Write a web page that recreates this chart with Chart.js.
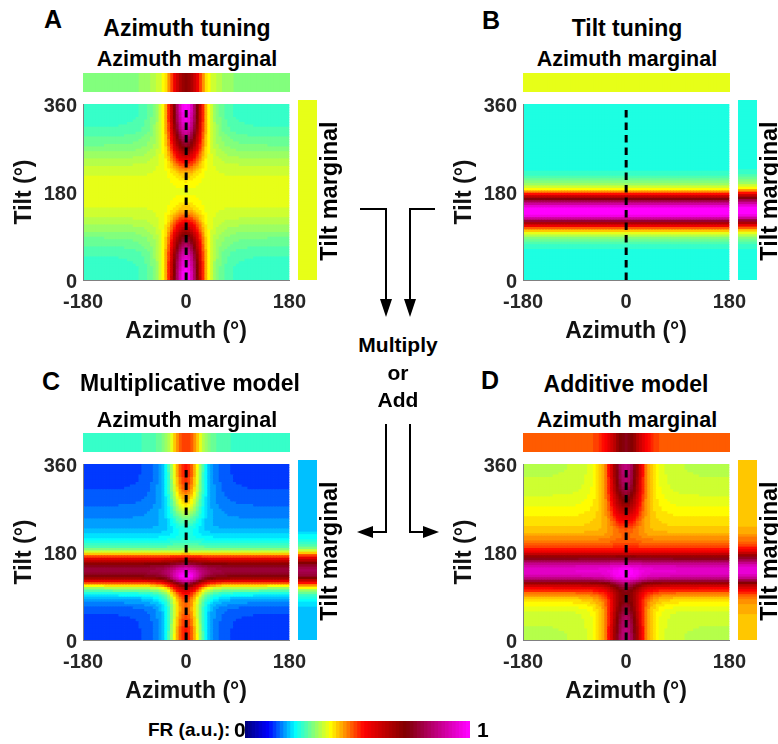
<!DOCTYPE html>
<html>
<head>
<meta charset="utf-8">
<script src="https://cdn.jsdelivr.net/npm/chart.js@4.4.0/dist/chart.umd.min.js"></script>
<style>
body{margin:0;background:#fff}
#fig{position:relative;width:778px;height:744px;overflow:hidden;background:#fff}
canvas{position:absolute}
.t{position:absolute;font-family:'Liberation Sans',Arial,Helvetica,sans-serif;font-weight:bold;color:#000;white-space:nowrap;line-height:1}
.c{transform:translateX(-50%)}
.v{transform:translate(-50%,-50%) rotate(-90deg)}
</style>
</head>
<body>
<div id="fig">
  <canvas id="mainA" width="316" height="260" style="left:0px;top:86px"></canvas>
  <canvas id="mainB" width="316" height="260" style="left:440px;top:86px"></canvas>
  <canvas id="mainC" width="316" height="260" style="left:0px;top:446px"></canvas>
  <canvas id="mainD" width="316" height="260" style="left:440px;top:446px"></canvas>

  <canvas id="azA" width="207" height="19" style="left:83px;top:73px"></canvas>
  <canvas id="azB" width="207" height="19" style="left:523px;top:73px"></canvas>
  <canvas id="azC" width="207" height="19" style="left:83px;top:433px"></canvas>
  <canvas id="azD" width="207" height="19" style="left:523px;top:433px"></canvas>

  <canvas id="tiltA" width="19" height="180" style="left:298px;top:100px"></canvas>
  <canvas id="tiltB" width="19" height="180" style="left:738px;top:100px"></canvas>
  <canvas id="tiltC" width="19" height="180" style="left:298px;top:460px"></canvas>
  <canvas id="tiltD" width="19" height="180" style="left:738px;top:460px"></canvas>

  <canvas id="cbar" width="225" height="17" style="left:245px;top:721px"></canvas>

  <div class="t" style="left:44px;top:7px;font-size:25px">A</div>
  <div class="t c" style="left:187px;top:17px;font-size:23px">Azimuth tuning</div>
  <div class="t c" style="left:187px;top:49px;font-size:21.5px">Azimuth marginal</div>
  <div class="t v" style="left:330px;top:191px;font-size:23.5px">Tilt marginal</div>

  <div class="t" style="left:482px;top:8px;font-size:25px">B</div>
  <div class="t c" style="left:627px;top:17px;font-size:23px">Tilt tuning</div>
  <div class="t c" style="left:627px;top:49px;font-size:21.5px">Azimuth marginal</div>
  <div class="t v" style="left:770px;top:191px;font-size:23.5px">Tilt marginal</div>

  <div class="t" style="left:42px;top:369px;font-size:25px">C</div>
  <div class="t c" style="left:190px;top:372px;font-size:23px">Multiplicative model</div>
  <div class="t c" style="left:187px;top:410px;font-size:21.5px">Azimuth marginal</div>
  <div class="t v" style="left:330px;top:551px;font-size:23.5px">Tilt marginal</div>

  <div class="t" style="left:481px;top:368px;font-size:25px">D</div>
  <div class="t c" style="left:626px;top:373px;font-size:23px">Additive model</div>
  <div class="t c" style="left:627px;top:410px;font-size:21.5px">Azimuth marginal</div>
  <div class="t v" style="left:770px;top:551px;font-size:23.5px">Tilt marginal</div>

  <div class="t c" style="left:398px;top:334px;font-size:21px">Multiply</div>
  <div class="t c" style="left:398px;top:362px;font-size:21px">or</div>
  <div class="t c" style="left:398px;top:389px;font-size:21px">Add</div>

  <div class="t" style="left:148px;top:720px;font-size:19px">FR (a.u.):</div>
  <div class="t" style="left:234px;top:719px;font-size:21px">0</div>
  <div class="t" style="left:477px;top:719px;font-size:21px">1</div>

  <svg width="778" height="744" style="position:absolute;left:0;top:0">
    <g fill="none" stroke="#000" stroke-width="2">
      <path d="M360 209 H386 V300"/>
      <path d="M435 209 H410 V300"/>
      <path d="M386 424 V532 H372"/>
      <path d="M410 424 V532 H424"/>
    </g>
    <g fill="#000">
      <polygon points="380,299 392,299 386,317"/>
      <polygon points="404,299 416,299 410,317"/>
      <polygon points="373,526 373,538 357,532"/>
      <polygon points="423,526 423,538 439,532"/>
    </g>
  </svg>
</div>

<script>
// sample positions (degrees)
const azimuths = [-180,-175,-170,-165,-160,-155,-150,-145,-140,-135,-130,-125,-120,-115,-110,-105,-100,-95,-90,-85,-80,-75,-70,-65,-60,-55,-50,-45,-40,-35,-30,-25,-20,-15,-10,-5,0,5,10,15,20,25,30,35,40,45,50,55,60,65,70,75,80,85,90,95,100,105,110,115,120,125,130,135,140,145,150,155,160,165,170,175,180];
const tilts = [0,5,10,15,20,25,30,35,40,45,50,55,60,65,70,75,80,85,90,95,100,105,110,115,120,125,130,135,140,145,150,155,160,165,170,175,180,185,190,195,200,205,210,215,220,225,230,235,240,245,250,255,260,265,270,275,280,285,290,295,300,305,310,315,320,325,330,335,340,345,350,355,360];

// panel A: response along azimuth at tilt 0
const azimuthCurve = [0.252,0.252,0.252,0.252,0.252,0.252,0.252,0.252,0.253,0.253,0.253,0.254,0.254,0.255,0.255,0.256,0.257,0.258,0.260,0.262,0.266,0.271,0.277,0.284,0.294,0.307,0.325,0.350,0.385,0.435,0.510,0.610,0.720,0.825,0.915,0.975,1.000,0.975,0.915,0.825,0.720,0.610,0.510,0.435,0.385,0.350,0.325,0.307,0.294,0.284,0.277,0.271,0.266,0.262,0.260,0.258,0.257,0.256,0.255,0.255,0.254,0.254,0.253,0.253,0.253,0.252,0.252,0.252,0.252,0.252,0.252,0.252,0.252];
// panel A: how much of that azimuth tuning is left at each tilt
const tiltDepth = [1.000,1.000,0.995,0.990,0.980,0.970,0.955,0.940,0.920,0.900,0.880,0.850,0.810,0.770,0.730,0.690,0.650,0.610,0.560,0.510,0.460,0.410,0.360,0.310,0.260,0.215,0.175,0.140,0.110,0.085,0.065,0.050,0.038,0.027,0.018,0.009,0.003,0.009,0.018,0.027,0.038,0.050,0.065,0.085,0.110,0.140,0.175,0.215,0.260,0.310,0.360,0.410,0.460,0.510,0.560,0.610,0.650,0.690,0.730,0.770,0.810,0.850,0.880,0.900,0.920,0.940,0.955,0.970,0.980,0.990,0.995,1.000,1.000];
// panel B: response along tilt
const tiltCurve = [0.24,0.24,0.24,0.24,0.24,0.24,0.24,0.24,0.24,0.24,0.241,0.243,0.247,0.253,0.262,0.272,0.285,0.305,0.33,0.365,0.41,0.47,0.55,0.65,0.77,0.89,0.96,0.99,1.0,0.99,0.95,0.89,0.80,0.72,0.62,0.52,0.44,0.385,0.35,0.325,0.305,0.29,0.275,0.263,0.253,0.246,0.242,0.24,0.24,0.24,0.24,0.24,0.24,0.24,0.24,0.24,0.24,0.24,0.24,0.24,0.24,0.24,0.24,0.24,0.24,0.24,0.24,0.24,0.24,0.24,0.24,0.24,0.24];

const azTicks = [-180, 0, 180];
const tiltTicks = [0, 180, 360];

// colour map (FR 0..1), 64 steps
const cmapStops = [[0,0,0,128],[0.10,0,0,255],[0.22,0,255,255],[0.38,255,255,0],[0.53,255,0,0],[0.72,128,0,0],[1,255,0,255]];
const nLevels = 64;

function colour(v) {
  const k = Math.max(0, Math.min(nLevels - 1, Math.floor(v * nLevels)));
  const p = k / (nLevels - 1);
  let s = 1;
  while (s < cmapStops.length - 1 && cmapStops[s][0] < p) s++;
  const a = cmapStops[s - 1], b = cmapStops[s];
  const f = (p - a[0]) / (b[0] - a[0]);
  const c = i => Math.round(a[i] + f * (b[i] - a[i]));
  return 'rgb(' + c(1) + ',' + c(2) + ',' + c(3) + ')';
}

const nA = azimuths.length, nT = tilts.length;
const meanAz = azimuthCurve.slice(1).reduce((s, v) => s + v, 0) / (nA - 1);

const gridA = tilts.map((t, i) => azimuths.map((a, j) => meanAz + tiltDepth[i] * (azimuthCurve[j] - meanAz)));
const gridB = tilts.map((t, i) => azimuths.map(() => tiltCurve[i]));

function normalise(g) {
  let mx = 0;
  g.forEach(r => r.forEach(v => { if (v > mx) mx = v; }));
  return g.map(r => r.map(v => v / mx));
}
const gridC = normalise(gridA.map((r, i) => r.map((v, j) => v * gridB[i][j])));
const gridD = normalise(gridA.map((r, i) => r.map((v, j) => v + gridB[i][j])));

function azMarginal(g) {
  return azimuths.map((a, j) => {
    let s = 0;
    for (let i = 1; i < nT; i++) s += g[i][j];
    return s / (nT - 1);
  });
}
function tiltMarginal(g) {
  return tilts.map((t, i) => {
    let s = 0;
    for (let j = 1; j < nA; j++) s += g[i][j];
    return s / (nA - 1);
  });
}

const font = "'Liberation Sans', Arial, Helvetica, sans-serif";
Chart.defaults.font.family = font;

const base = {
  responsive: false,
  animation: false,
  devicePixelRatio: 1,
  events: [],
  plugins: { legend: { display: false }, tooltip: { enabled: false } }
};

function heatmap(id, grid) {
  const datasets = tilts.map((t, i) => ({
    type: 'bar',
    data: azimuths.map(a => ({ x: a, y: [t - 2.5, t + 2.5] })),
    backgroundColor: grid[i].map(colour),
    barPercentage: 1,
    categoryPercentage: 1,
    borderWidth: 0,
    grouped: false,
    inflateAmount: 0.4
  }));
  datasets.unshift({
    type: 'line',
    data: [{ x: 0, y: 0 }, { x: 0, y: 357 }],
    borderColor: '#000',
    borderWidth: 3,
    borderDash: [7.5, 5],
    pointRadius: 0,
    fill: false,
    order: -1
  });

  new Chart(document.getElementById(id), {
    type: 'bar',
    data: { datasets },
    options: Object.assign({}, base, {
      layout: { padding: { top: 14, right: 26, left: 0, bottom: 0 } },
      scales: {
        x: {
          type: 'linear', min: -180, max: 180, offset: false, stacked: true,
          afterBuildTicks: s => { s.ticks = azTicks.map(v => ({ value: v })); },
          afterFit: s => { s.height = 66; },
          grid: { display: false, drawTicks: false },
          border: { display: true, color: '#808080', width: 1, z: 1 },
          ticks: { padding: 10, color: '#262626', maxRotation: 0, autoSkip: false,
                   font: { size: 20, weight: 'bold' }, callback: v => String(v) },
          title: { display: true, text: 'Azimuth (°)', color: '#111',
                   font: { size: 23, weight: 'bold' }, padding: { top: 0, bottom: 1 } }
        },
        y: {
          type: 'linear', min: 0, max: 360,
          afterBuildTicks: s => { s.ticks = tiltTicks.map(v => ({ value: v })); },
          afterFit: s => { s.width = 83; },
          grid: { display: false, drawTicks: false },
          border: { display: true, color: '#808080', width: 1, z: 1 },
          ticks: { padding: 6, labelOffset: 2, color: '#262626', autoSkip: false,
                   font: { size: 20, weight: 'bold' }, callback: v => String(v) },
          title: { display: true, text: 'Tilt (°)', color: '#111',
                   font: { size: 23, weight: 'bold' }, padding: { top: 11, bottom: 0 } }
        }
      }
    })
  });
}

function azStrip(id, values) {
  new Chart(document.getElementById(id), {
    type: 'bar',
    data: { datasets: [{
      data: azimuths.map(a => ({ x: a, y: [0, 1] })),
      backgroundColor: values.map(colour),
      barPercentage: 1, categoryPercentage: 1, borderWidth: 0, inflateAmount: 0.4
    }] },
    options: Object.assign({}, base, {
      layout: { padding: 0 },
      scales: {
        x: { type: 'linear', min: -180, max: 180, offset: false, display: false },
        y: { min: 0, max: 1, display: false }
      }
    })
  });
}

function tiltStrip(id, values) {
  new Chart(document.getElementById(id), {
    type: 'bar',
    data: { datasets: [{
      data: tilts.map(t => ({ x: [0, 1], y: t })),
      backgroundColor: values.map(colour),
      barPercentage: 1, categoryPercentage: 1, borderWidth: 0, inflateAmount: 0.4
    }] },
    options: Object.assign({}, base, {
      indexAxis: 'y',
      layout: { padding: 0 },
      scales: {
        y: { type: 'linear', min: 0, max: 360, offset: false, display: false },
        x: { min: 0, max: 1, display: false }
      }
    })
  });
}

function colourbar(id) {
  const centres = Array.from({ length: nLevels }, (_, k) => (k + 0.5) / nLevels);
  new Chart(document.getElementById(id), {
    type: 'bar',
    data: { datasets: [{
      data: centres.map(c => ({ x: c, y: [0, 1] })),
      backgroundColor: centres.map(colour),
      barPercentage: 1, categoryPercentage: 1, borderWidth: 0, inflateAmount: 0.4
    }] },
    options: Object.assign({}, base, {
      layout: { padding: 0 },
      scales: {
        x: { type: 'linear', min: 0, max: 1, offset: false, display: false },
        y: { min: 0, max: 1, display: false }
      }
    })
  });
}

const panels = { A: gridA, B: gridB, C: gridC, D: gridD };
Object.keys(panels).forEach(k => {
  heatmap('main' + k, panels[k]);
  azStrip('az' + k, azMarginal(panels[k]));
  tiltStrip('tilt' + k, tiltMarginal(panels[k]));
});
colourbar('cbar');
</script>
</body>
</html>
